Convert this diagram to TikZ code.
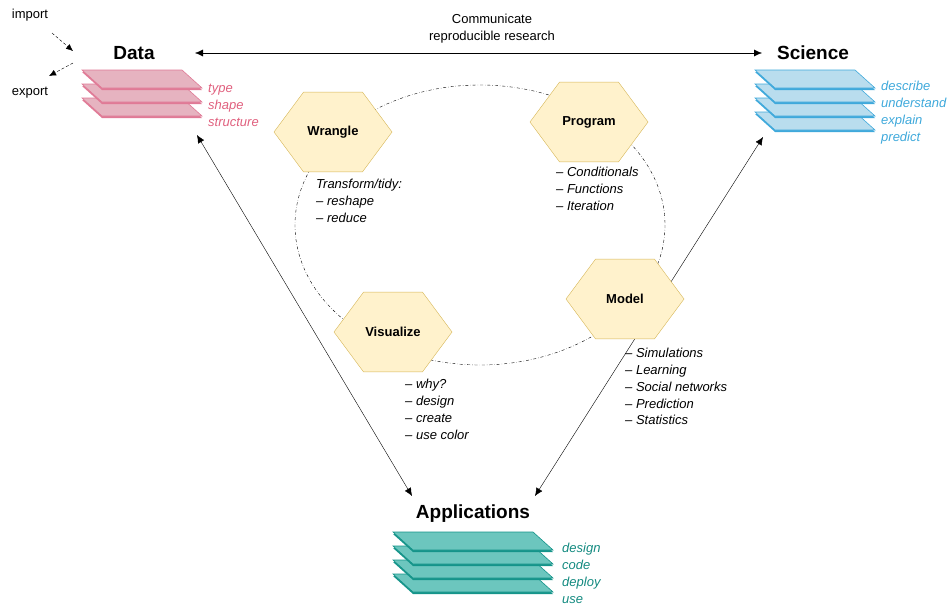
\documentclass[tikz,border=0pt]{standalone}
\usepackage{fontspec}
\setmainfont{Liberation Sans}
\usetikzlibrary{positioning,shapes.geometric,arrows.meta}
\definecolor{hexfill}{HTML}{FFF2CC}
\definecolor{hexdraw}{HTML}{D6B656}
\definecolor{datafill}{HTML}{E6B3C0}
\definecolor{datadraw}{HTML}{E07A96}
\definecolor{datatext}{HTML}{E0607E}
\definecolor{scifill}{HTML}{B9DDEE}
\definecolor{scidraw}{HTML}{3FA9DB}
\definecolor{appfill}{HTML}{6CC6BE}
\definecolor{appdraw}{HTML}{15948A}
\definecolor{apptext}{HTML}{138A80}
\tikzset{
hexA/.style={regular polygon,regular polygon sides=6,minimum size=118pt,inner sep=0pt,fill=hexfill,draw=hexdraw,yscale=0.78},
hexlabel/.style={font=\bfseries\fontsize{13}{15}\selectfont},
title/.style={font=\bfseries\fontsize{19}{22}\selectfont},
note/.style={font=\itshape\fontsize{13}{16.8}\selectfont,align=left,anchor=north west,inner sep=0pt},
plain/.style={font=\fontsize{13}{16.8}\selectfont,inner sep=0pt},
arr/.style={{Latex[length=8pt,width=7pt]}-{Latex[length=8pt,width=7pt]},thin}
}
% one layer of a stack: x, y, width, slant, fill, draw
\newcommand{\layer}[6]{
\fill[#6] (#1,#2+2) -- ++(#3,0) -- ++(#4,18) -- ++(-#3,0) -- cycle;
\filldraw[fill=#5,draw=#6,line width=0.6pt] (#1,#2) -- ++(#3,0) -- ++(#4,18) -- ++(-#3,0) -- cycle;
}
\begin{document}
\begin{tikzpicture}[x=1pt,y=-1pt]
\useasboundingbox (0,0) rectangle (951,608);

% connectors
\coordinate (dR) at (195,53);
\coordinate (sL) at (762,53);
\coordinate (dB) at (197,135);
\coordinate (aL) at (412,496);
\coordinate (aR) at (535,496);
\coordinate (sB) at (763,137);
\coordinate (impA) at (52,33);
\coordinate (imp) at (73,51);
\coordinate (exp) at (73,63);
\coordinate (expB) at (49,76);
\draw[arr] (dR) -- (sL);
\draw[arr] (dB) -- (aL);
\draw[arr] (aR) -- (sB);
\draw[-{Latex[length=7pt,width=6pt]},densely dashed,thin] (impA) -- (imp);
\draw[-{Latex[length=7pt,width=6pt]},densely dashed,thin] (exp) -- (expB);

% cycle
\draw[dash dot,thin] (480,225) ellipse [x radius=185,y radius=140];

% hexagons
\node[hexA] (wrangle) at (333,132) {};
\node[hexlabel] at (wrangle) {Wrangle};
\node[hexA] (program) at (589,122) {};
\node[hexlabel] at (program) {Program};
\node[hexA] (visual) at (393,332) {};
\node[hexlabel] at (visual) {Visualize};
\node[hexA] (model) at (625,299) {};
\node[hexlabel] at (model) {Model};

% stacks
\foreach \k in {2,1,0}
{\layer{82}{70+14*\k}{100}{20}{datafill}{datadraw}}
\foreach \k in {3,2,1,0}
{\layer{755}{70+14*\k}{100}{20}{scifill}{scidraw}}
\foreach \k in {3,2,1,0}
{\layer{393}{532+14*\k}{140}{20}{appfill}{appdraw}}

% titles
\node[title] (data) at (134,53) {Data};
\node[title] (science) at (813,53) {Science};
\node[title] (apps) at (473,514) {Applications};

\node[note,text=datatext] (datanote) at (208,84) {type\\shape\\structure};
\node[note,text=scidraw] (scinote) at (881,81) {describe\\understand\\explain\\predict};
\node[note,text=apptext] (appnote) at (562,543) {design\\code\\deploy\\use};

\node[note] (wnote) at (316,179) {Transform/tidy:\\– reshape\\– reduce};
\node[note] (pnote) at (556,167) {– Conditionals\\– Functions\\– Iteration};
\node[note] (vnote) at (405,379) {– why?\\– design\\– create\\– use color};
\node[note] (mnote) at (625,348) {– Simulations\\– Learning\\– Social networks\\– Prediction\\– Statistics};

\node[plain,align=center] (comm) at (492,29) {Communicate\\reproducible research};
\node[plain] (import) at (30,15) {import};
\node[plain] (export) at (30,93) {export};
\end{tikzpicture}
\end{document}
